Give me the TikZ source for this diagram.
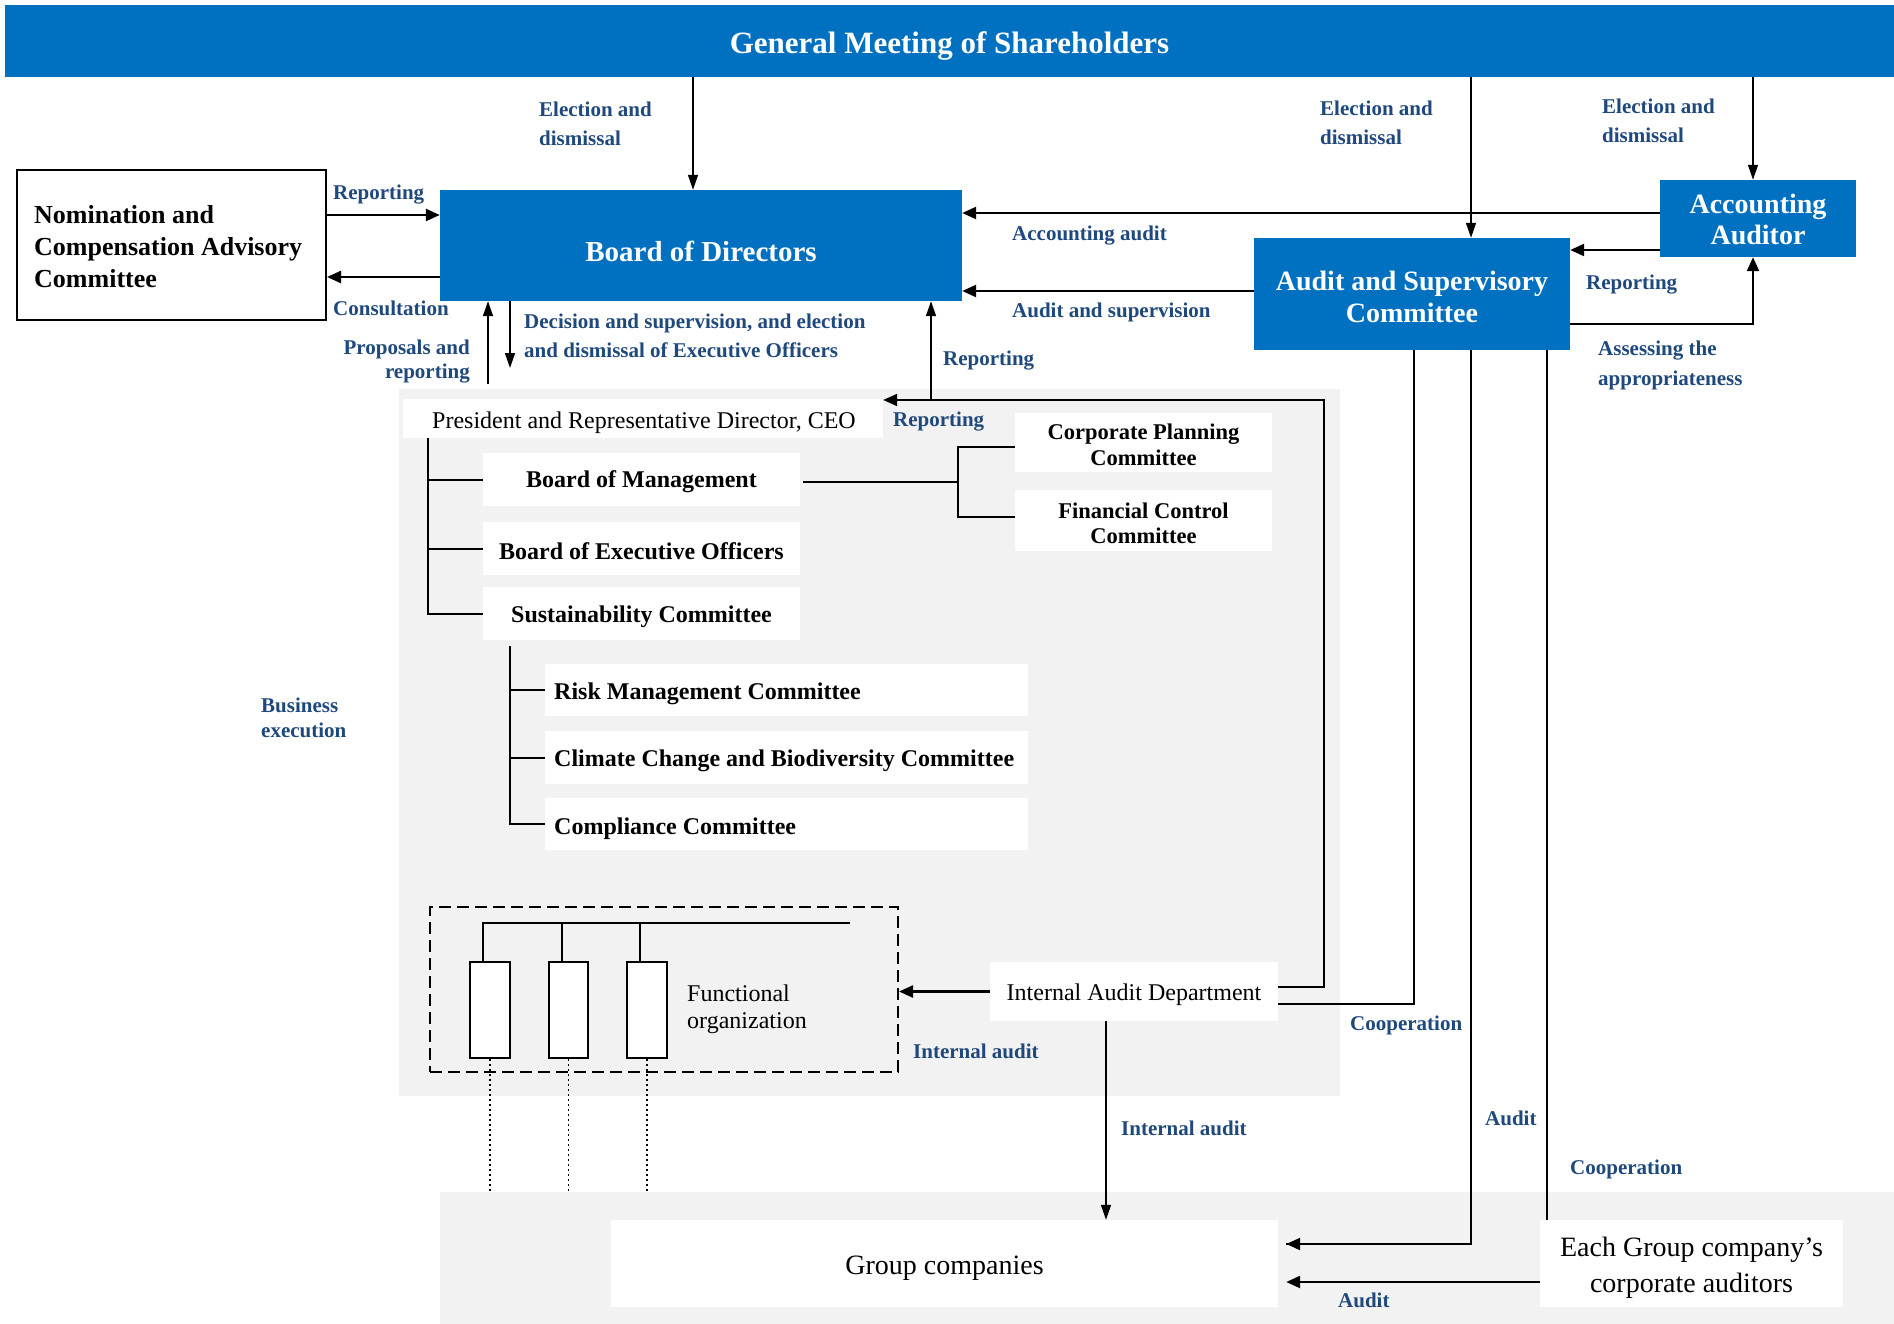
\documentclass[tikz,border=0pt]{standalone}
\usepackage{fontspec}
\setmainfont{Liberation Serif}
\usetikzlibrary{arrows.meta}
\definecolor{mblue}{HTML}{0070C0}
\definecolor{lblue}{HTML}{1F497D}
\definecolor{lgray}{HTML}{F2F2F2}
\newcommand{\myfs}[2]{\fontsize{#1}{#2}\selectfont}
\tikzset{
  blu/.style={fill=mblue, inner sep=0},
  wbox/.style={fill=white, inner sep=0},
  gbox/.style={fill=lgray, inner sep=0},
  txt/.style={inner sep=0, align=left},
  ctxt/.style={inner sep=0, align=center},
  wtxt/.style={inner sep=0, align=center, text=white},
  lab/.style={text=lblue, font=\myfs{21}{29}\bfseries, align=left, inner sep=0, anchor=west},
  thinarr/.style={line width=1.5pt, -{Triangle[length=15pt,width=10pt]}},
  thickarr/.style={line width=2.4pt, -{Triangle[length=14pt,width=12pt]}},
  conn/.style={line width=2pt},
  tline/.style={line width=1.6pt},
  dotl/.style={line width=1.2pt, dash pattern=on 2pt off 3pt}
}
\begin{document}
\begin{tikzpicture}[x=1pt,y=-1pt]
\useasboundingbox (0,0) rectangle (1894,1324);
\fill[white] (0,0) rectangle (1894,1324);
% background areas
\node[gbox, minimum width=941pt, minimum height=707pt] (exec) at (869.5,742.5) {};
\node[gbox, minimum width=1454pt, minimum height=132pt] (bgr) at (1167,1258) {};
% coordinates
\coordinate (c693) at (693,0);
\coordinate (c1471) at (1471,0);
\coordinate (c1753) at (1753,0);
\coordinate (c1106) at (1106,0);
\coordinate (c1414) at (1414,0);
\coordinate (c1547) at (1547,0);
\coordinate (y215) at (0,215);
\coordinate (y277) at (0,277);
\coordinate (y213) at (0,213);
\coordinate (y291) at (0,291);
\coordinate (y250) at (0,250);
\coordinate (y324) at (0,324);
\coordinate (y1244) at (0,1244);
\coordinate (y1282) at (0,1282);
% main boxes
\node[blu, minimum width=1889pt, minimum height=72pt] (gm) at (949.5,41) {};
\node[wtxt, font=\myfs{31}{36}\bfseries] (gmt) at ([yshift=-5pt]gm.center) {General Meeting of Shareholders};
\node[draw=black, line width=2pt, fill=white, minimum width=309pt, minimum height=150pt, inner sep=0] (ncac) at (171.5,245) {};
\node[txt, anchor=west, font=\myfs{26}{32}\bfseries] (ncact) at (34,247) {Nomination and\\Compensation Advisory\\Committee};
\node[blu, minimum width=522pt, minimum height=111pt] (bod) at (701,245.5) {};
\node[wtxt, font=\myfs{29}{34}\bfseries] (bodt) at ([yshift=-6pt]bod.center) {Board of Directors};
\node[blu, minimum width=196pt, minimum height=77pt] (aa) at (1758,218.5) {};
\node[wtxt, font=\myfs{28}{31}\bfseries] (aat) at ([yshift=-0.5pt]aa.center) {Accounting\\Auditor};
\node[blu, minimum width=316pt, minimum height=112pt] (asc) at (1412,294) {};
\node[wtxt, font=\myfs{28}{32}\bfseries] (asct) at ([yshift=-2.5pt]asc.center) {Audit and Supervisory\\Committee};
% execution area
\node[wbox, minimum width=480pt, minimum height=39pt] (ceo) at (643,418.5) {};
\node[txt, anchor=west, font=\myfs{24}{28}] (ceot) at (432,422.5) {President and Representative Director, CEO};
\node[wbox, minimum width=317pt, minimum height=53pt] (bom) at (641.5,479.5) {};
\node[ctxt, font=\myfs{24}{28}\bfseries] (bomt) at ([yshift=-2.5pt]bom.center) {Board of Management};
\node[wbox, minimum width=317pt, minimum height=53pt] (boeo) at (641.5,548.5) {};
\node[ctxt, font=\myfs{24}{28}\bfseries] (boeot) at ([yshift=-2.5pt]boeo.center) {Board of Executive Officers};
\node[wbox, minimum width=317pt, minimum height=53pt] (sust) at (641.5,613.5) {};
\node[ctxt, font=\myfs{24}{28}\bfseries] (sustt) at ([yshift=-3.5pt]sust.center) {Sustainability Committee};
\node[wbox, minimum width=257pt, minimum height=59pt] (cpc) at (1143.5,442.5) {};
\node[ctxt, font=\myfs{22.5}{25.5}\bfseries] (cpct) at ([yshift=-2.5pt]cpc.center) {Corporate Planning\\Committee};
\node[wbox, minimum width=257pt, minimum height=61pt] (fcc) at (1143.5,520.5) {};
\node[ctxt, font=\myfs{22.5}{25.5}\bfseries] (fcct) at ([yshift=-3pt]fcc.center) {Financial Control\\Committee};
\node[wbox, minimum width=483pt, minimum height=52pt] (risk) at (786.5,690) {};
\node[txt, anchor=west, font=\myfs{24}{28}\bfseries] (riskt) at (554,693.5) {Risk Management Committee};
\node[wbox, minimum width=483pt, minimum height=53pt] (clim) at (786.5,757.5) {};
\node[txt, anchor=west, font=\myfs{24}{28}\bfseries] (climt) at (554,761) {Climate Change and Biodiversity Committee};
\node[wbox, minimum width=483pt, minimum height=52pt] (comp) at (786.5,824) {};
\node[txt, anchor=west, font=\myfs{24}{28}\bfseries] (compt) at (554,828.5) {Compliance Committee};
% functional organization
\node[draw=black, line width=2pt, dash pattern=on 12pt off 6pt, minimum width=468pt, minimum height=165pt, inner sep=0] (fo) at (664,989.5) {};
\node[draw=black, fill=white, line width=2pt, minimum width=40pt, minimum height=96pt, inner sep=0] (r1) at (490,1010) {};
\node[draw=black, fill=white, line width=2pt, minimum width=39pt, minimum height=96pt, inner sep=0] (r2) at (568.5,1010) {};
\node[draw=black, fill=white, line width=2pt, minimum width=40pt, minimum height=96pt, inner sep=0] (r3) at (647,1010) {};
\node[txt, anchor=west, font=\myfs{24}{27}] (fot) at (687,1009.5) {Functional\\organization};
\node[wbox, minimum width=288pt, minimum height=59pt] (iad) at (1134,991.5) {};
\node[ctxt, font=\myfs{24}{28}] (iadt) at ([yshift=-3.5pt]iad.center) {Internal Audit Department};
% group
\node[wbox, minimum width=667pt, minimum height=87pt] (group) at (944.5,1263.5) {};
\node[ctxt, font=\myfs{28}{32}] (groupt) at ([yshift=-4.5pt]group.center) {Group companies};
\node[wbox, minimum width=303pt, minimum height=87pt] (corp) at (1691.5,1263.5) {};
\node[ctxt, font=\myfs{28}{36}] (corpt) at ([yshift=-4.5pt]corp.center) {Each Group company’s\\corporate auditors};
% arrows from general meeting
\draw[thinarr] (gm.south -| c693) -- (bod.north -| c693);
\draw[thinarr] (gm.south -| c1471) -- (asc.north -| c1471);
\draw[thinarr] (gm.south -| c1753) -- (aa.north -| c1753);
% horizontal arrows
\draw[thickarr] (ncac.east |- y215) -- (bod.west |- y215);
\draw[thickarr] (bod.west |- y277) -- (ncac.east |- y277);
\draw[thickarr] (aa.west |- y213) -- (bod.east |- y213);
\draw[thickarr] (asc.west |- y291) -- (bod.east |- y291);
\draw[thickarr] (aa.west |- y250) -- (asc.east |- y250);
\draw[thickarr] (asc.east |- y324) -| (aa.south -| c1753);
% board to executives
\coordinate (p1) at (488,384);
\coordinate (p2) at (510,368);
\coordinate (p3) at (931,400);
\coordinate (c1324) at (1324,400);
\draw[thinarr] (p1) -- (bod.south -| p1);
\draw[thinarr] (bod.south -| p2) -- (p2);
\draw[thinarr] (p3) -- (bod.south -| p3);
\draw[thickarr, line width=2pt] ([yshift=4.5pt]iad.east) -| (c1324) -- (ceo.east |- c1324);
% trees
\draw[conn] ([xshift=25pt]ceo.south west) |- (bom.west);
\draw[conn] ([xshift=25pt]ceo.south west) |- (boeo.west);
\draw[conn] ([xshift=25pt]ceo.south west) |- (sust.west);
\coordinate (j1) at (958,482);
\draw[conn] ([xshift=3pt,yshift=-2.5pt]bom.east) -- (j1);
\draw[conn] ([yshift=-4pt]cpc.west) -| (j1) |- ([yshift=4pt]fcc.west);
\draw[conn] ([xshift=27pt,yshift=-6pt]sust.south west) |- (risk.west);
\draw[conn] ([xshift=27pt,yshift=-6pt]sust.south west) |- (clim.west);
\draw[conn] ([xshift=27pt,yshift=-6pt]sust.south west) |- (comp.west);
% functional org lines
\coordinate (h1) at (850,923);
\draw[conn] ([xshift=-7pt]r1.north) |- (h1);
\draw[conn] ([xshift=-7pt]r2.north) -- ([xshift=-7pt]r2.north |- h1);
\draw[conn] ([xshift=-7pt]r3.north) -- ([xshift=-7pt]r3.north |- h1);
\draw[dotl] (r1.south) -- (r1.south |- bgr.north);
\draw[dotl] (r2.south) -- (r2.south |- bgr.north);
\draw[dotl] (r3.south) -- (r3.south |- bgr.north);
% internal audit
\draw[thickarr] (iad.west) -- (fo.east |- iad.west);
\draw[thinarr] (iad.south -| c1106) -- (group.north -| c1106);
\draw[conn] ([yshift=-12.5pt]iad.east) -| (asc.south -| c1414);
\draw[tline] (asc.south -| c1471) |- ([xshift=8pt]group.east |- y1244);
\draw[thickarr, line width=2.2pt] (c1471 |- y1244) -- ([xshift=8pt]group.east |- y1244);
\draw[tline] (asc.south -| c1547) -- (corp.north -| c1547);
\draw[thickarr] (corp.west |- y1282) -- ([xshift=8pt]group.east |- y1282);
% labels
\node[lab] at (539,123.5) {Election and\\dismissal};
\node[lab] at (1320,123) {Election and\\dismissal};
\node[lab] at (1602,120.5) {Election and\\dismissal};
\node[lab] at (333,195) {Reporting};
\node[lab] at (333,308) {Consultation};
\node[lab, anchor=east, align=right, font=\myfs{21}{24}\bfseries] at (470,362) {Proposals and\\reporting};
\node[lab] at (524,336) {Decision and supervision, and election\\and dismissal of Executive Officers};
\node[lab] at (943,361) {Reporting};
\node[lab] at (1012,236) {Accounting audit};
\node[lab] at (1012,312) {Audit and supervision};
\node[lab] at (1586,284.5) {Reporting};
\node[lab, font=\myfs{21}{30}\bfseries] at (1598,365) {Assessing the\\appropriateness};
\node[lab] at (893,422) {Reporting};
\node[lab, font=\myfs{21}{25}\bfseries] at (261,718) {Business\\execution};
\node[lab] at (913,1051) {Internal audit};
\node[lab] at (1350,1025) {Cooperation};
\node[lab] at (1121,1128) {Internal audit};
\node[lab] at (1485,1118) {Audit};
\node[lab] at (1570,1169) {Cooperation};
\node[lab] at (1338,1300) {Audit};
\end{tikzpicture}
\end{document}
